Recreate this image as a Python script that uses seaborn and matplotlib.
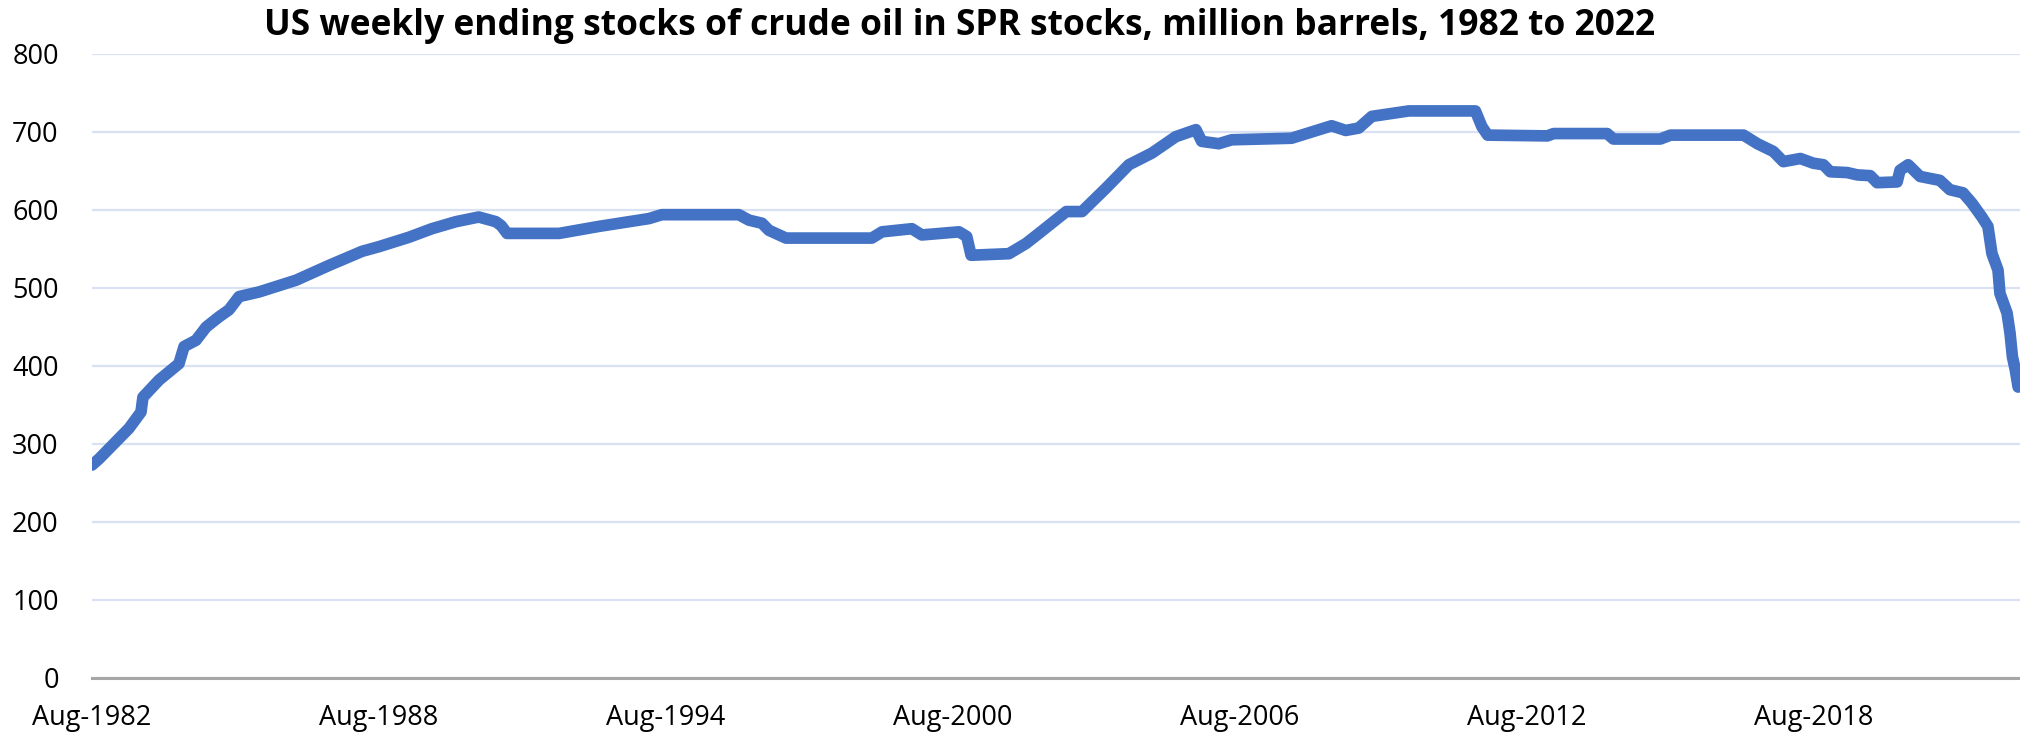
import matplotlib
matplotlib.use("Agg")
import matplotlib.pyplot as plt
import seaborn as sns
import pandas as pd

# ---- data ----
dates = [
    "1982-08-20", "1982-10-13", "1983-05-29", "1983-08-29", "1983-09-13", "1984-01-14",
    "1984-06-14", "1984-07-23", "1984-10-22", "1985-01-08", "1985-04-16", "1985-07-01",
    "1985-09-16", "1986-02-17", "1986-11-25", "1987-08-04", "1988-04-12", "1988-08-19",
    "1989-04-04", "1989-09-27", "1990-03-29", "1990-09-20", "1991-01-29", "1991-03-10",
    "1991-04-24", "1992-05-26", "1993-03-26", "1994-04-12", "1994-07-19", "1996-02-27",
    "1996-05-14", "1996-08-22", "1996-10-13", "1997-02-21", "1998-12-08", "1999-02-24",
    "1999-10-10", "1999-12-25", "2000-10-04", "2000-12-02", "2001-01-04", "2001-10-20",
    "2002-02-27", "2002-06-06", "2003-01-01", "2003-05-01", "2003-10-31", "2004-04-23",
    "2004-10-16", "2005-04-16", "2005-09-17", "2005-10-31", "2006-03-10", "2006-06-17",
    "2007-09-17", "2008-07-19", "2008-11-03", "2009-02-10", "2009-05-22", "2010-02-28",
    "2011-07-22", "2011-09-09", "2011-10-23", "2013-01-22", "2013-03-10", "2014-04-23",
    "2014-06-09", "2015-06-03", "2015-08-19", "2017-02-27", "2017-06-13", "2017-10-13",
    "2017-12-28", "2018-05-07", "2018-08-14", "2018-10-30", "2018-12-21", "2019-04-29",
    "2019-07-16", "2019-10-23", "2019-12-14", "2020-05-15", "2020-06-06", "2020-08-07",
    "2020-11-06", "2021-04-06", "2021-06-22", "2021-09-30", "2021-12-06", "2022-02-21",
    "2022-04-08", "2022-05-09", "2022-06-24", "2022-07-09", "2022-09-01", "2022-09-24",
    "2022-10-12", "2022-11-03", "2022-11-25",
]
stocks = [
    273, 281, 320, 341, 360, 382,
    403, 425, 433, 450, 463, 472,
    489, 495, 510, 529, 547, 553,
    565, 576, 585, 591, 585, 580,
    570, 570, 579, 589, 594, 594,
    587, 583, 574, 564, 564, 572,
    576, 568, 572, 566, 542, 544,
    557, 570, 598, 598, 628, 658,
    673, 694, 703, 688, 685, 690,
    692, 708, 702, 705, 720, 727,
    727, 707, 696, 695, 698, 698,
    691, 691, 696, 696, 685, 675,
    662, 666, 660, 658, 649, 648,
    645, 644, 635, 636, 651, 658,
    643, 638, 626, 622, 609, 591,
    579, 544, 523, 493, 468, 442,
    412, 395, 373,
]
tick_labels = ["Aug-1982", "Aug-1988", "Aug-1994", "Aug-2000",
               "Aug-2006", "Aug-2012", "Aug-2018"]
tick_dates = ["1982-08-20", "1988-08-19", "1994-08-19", "2000-08-18",
              "2006-08-18", "2012-08-17", "2018-08-17"]
y_ticks = [0, 100, 200, 300, 400, 500, 600, 700, 800]
title = "US weekly ending stocks of crude oil in SPR stocks, million barrels, 1982 to 2022"

df = pd.DataFrame({"date": pd.to_datetime(dates), "stocks": stocks})

sns.set_theme(style="white")
plt.rcParams["font.family"] = ["Open Sans", "DejaVu Sans"]

fig = plt.figure(figsize=(20.2, 7.36), dpi=100)
ax = fig.add_axes([92 / 2020, 58 / 736, 1 - 92 / 2020, (678 - 54) / 736])

sns.lineplot(data=df, x="date", y="stocks", ax=ax, color="#4472C4",
             linewidth=8.4, solid_joinstyle="round", solid_capstyle="round",
             zorder=3)

ax.set_xlim(pd.Timestamp("1982-08-20"), pd.Timestamp("2022-12-09"))
ax.set_ylim(0, 800)
ax.set_yticks(y_ticks)
ax.set_yticklabels([str(v) for v in y_ticks])
ax.set_xticks(pd.to_datetime(tick_dates))
ax.set_xticklabels(tick_labels)

ax.grid(axis="y", color="#D9E2F3", linewidth=1.6, zorder=0)
ax.grid(axis="x", visible=False)
for s in ["top", "right", "left"]:
    ax.spines[s].set_visible(False)
ax.spines["bottom"].set_color("#A6A6A6")
ax.spines["bottom"].set_linewidth(2.2)
ax.spines["bottom"].set_zorder(2)

ax.tick_params(axis="y", length=0, pad=24, labelsize=19.5, labelcolor="#000000")
ax.tick_params(axis="x", length=0, pad=19, labelsize=19.5, labelcolor="#000000")
ax.set_xlabel("")
ax.set_ylabel("")

fig.text(0.475, 1 - 26 / 736, title, ha="center", va="center",
         fontsize=25.5, fontweight="bold", color="#000000")

fig.savefig("out.png", dpi=100)
